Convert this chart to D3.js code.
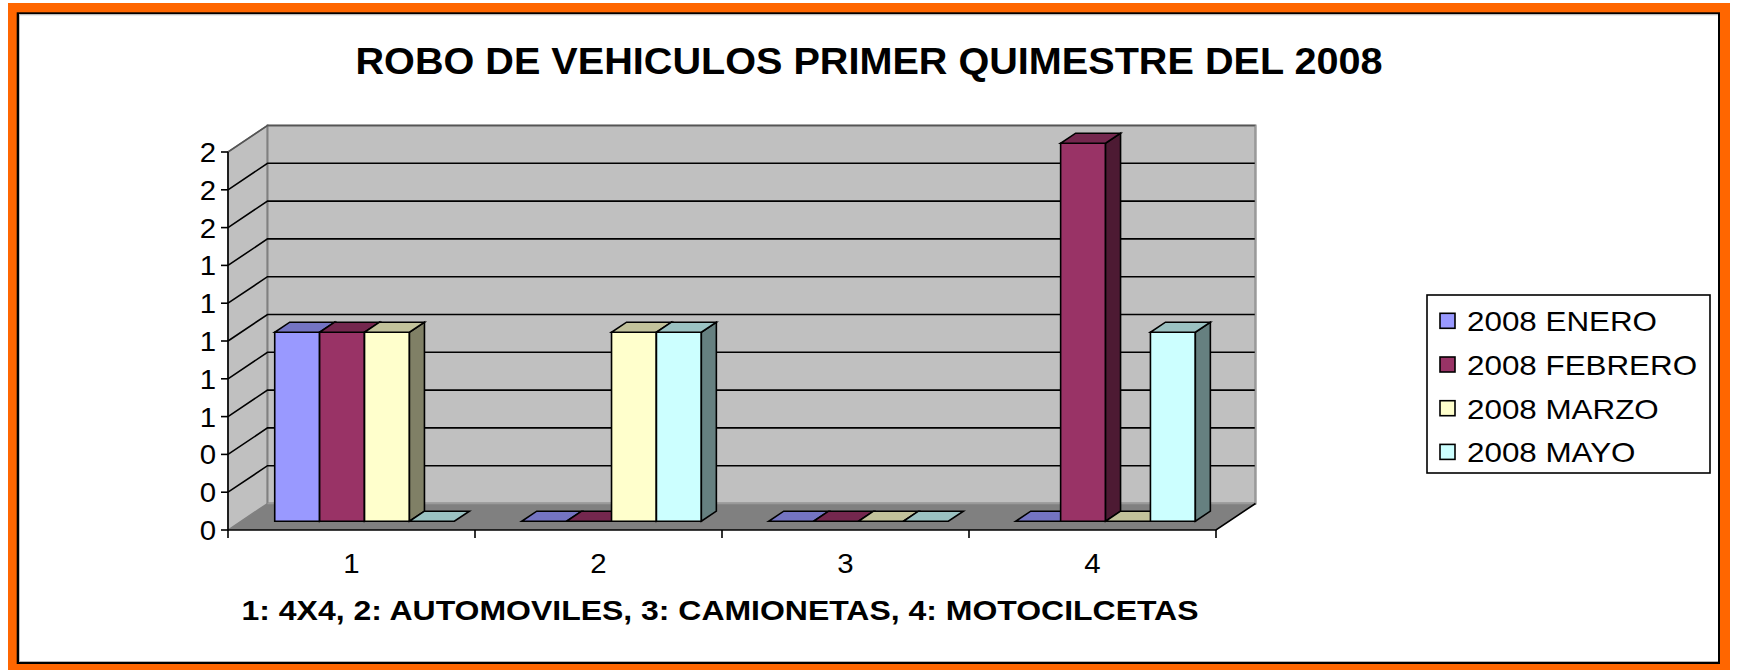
<!DOCTYPE html>
<html>
<head>
<meta charset="utf-8">
<script src="https://cdn.jsdelivr.net/npm/d3@7"></script>
<style>
  html, body { margin: 0; padding: 0; background: #ffffff; }
  svg { display: block; font-family: Arial, "Liberation Sans", sans-serif; }
</style>
</head>
<body>
<svg id="chart" width="1737" height="670"></svg>
<script>
// Vehicle thefts by type, first five months of 2008
const categories = ["1", "2", "3", "4"];
const seriesNames = ["2008 ENERO", "2008 FEBRERO", "2008 MARZO", "2008 MAYO"];
const enero   = [1, 0, 0, 0];
const febrero = [1, 0, 0, 2];
const marzo   = [1, 1, 0, 0];
const mayo    = [0, 1, 0, 1];
const seriesValues = [enero, febrero, marzo, mayo];
const seriesColors = ["#9999FF", "#993366", "#FFFFCC", "#CCFFFF"];
const yTickValues = [0, 0.2, 0.4, 0.6, 0.8, 1.0, 1.2, 1.4, 1.6, 1.8, 2.0];
const yTickLabels = ["0", "0", "0", "1", "1", "1", "1", "1", "2", "2", "2"];
const titleText = "ROBO DE VEHICULOS PRIMER QUIMESTRE DEL 2008";
const axisTitleText = "1: 4X4, 2: AUTOMOVILES, 3: CAMIONETAS, 4: MOTOCILCETAS";

const svg = d3.select("#chart");

// Outer frame: orange band, black rule, white page
svg.append("rect").attr("x", 8).attr("y", 3).attr("width", 1722).attr("height", 670).attr("fill", "#FF6600");
svg.append("rect").attr("x", 16.7).attr("y", 12.3).attr("width", 1703.3).attr("height", 651.7).attr("fill", "#000000");
svg.append("rect").attr("x", 19).attr("y", 14.3).attr("width", 1699).attr("height", 647.4).attr("fill", "#ffffff");
svg.append("path").attr("d", "M19.5,661.7 V14.8 H1718").attr("fill", "none").attr("stroke", "#c0c0c0").attr("stroke-width", 1);

// Text helper: stretch glyphs horizontally by a factor, or to a given width
function stretchText(sel, factor, width) {
  sel.each(function () {
    const w = this.getComputedTextLength();
    const target = width != null ? width : w * factor;
    d3.select(this).attr("textLength", target).attr("lengthAdjust", "spacingAndGlyphs");
  });
}

// Scales for the front plane of the 3D plot
const y = d3.scaleLinear().domain([0, 2]).range([530, 152]);
const x = d3.scaleBand().domain(categories).range([228, 1216]);
const xs = d3.scaleBand().domain(seriesNames).range([0, x.bandwidth()]).paddingInner(0).paddingOuter(0.75);

// Oblique depth projection
const depth = { dx: 39.5, dy: -26.5 };
const proj = (px, py, t) => [px + t * depth.dx, py + t * depth.dy];
const poly = pts => "M" + pts.map(p => p[0].toFixed(2) + "," + p[1].toFixed(2)).join("L") + "Z";
const line = pts => "M" + pts.map(p => p[0].toFixed(2) + "," + p[1].toFixed(2)).join("L");

const x0 = x.range()[0], x1 = x.range()[1];
const yMax = y(2), yMin = y(0);

// Walls and floor
const g = svg.append("g");
g.append("path")
  .attr("d", poly([proj(x0, yMax, 0), proj(x0, yMax, 1), proj(x0, yMin, 1), proj(x0, yMin, 0)]))
  .attr("fill", "#C0C0C0").attr("stroke", "#808080").attr("stroke-width", 1.5);
g.append("path")
  .attr("d", poly([proj(x0, yMax, 1), proj(x1, yMax, 1), proj(x1, yMin, 1), proj(x0, yMin, 1)]))
  .attr("fill", "#C0C0C0").attr("stroke", "#808080").attr("stroke-width", 2);

// Gridlines on side wall and back wall
yTickValues.filter(v => v > 0).forEach(v => {
  g.append("path")
    .attr("d", line([proj(x0, y(v), 0), proj(x0, y(v), 1), proj(x1, y(v), 1)]))
    .attr("fill", "none")
    .attr("stroke", v === 2 ? "#555555" : "#000000")
    .attr("stroke-width", 1.6);
});

g.append("path")
  .attr("d", poly([proj(x0, yMin, 0), proj(x1, yMin, 0), proj(x1, yMin, 1), proj(x0, yMin, 1)]))
  .attr("fill", "#808080").attr("stroke", "none");
g.append("path")
  .attr("d", line([proj(x0, yMin, 1), proj(x1, yMin, 1), proj(x1, yMax, 1)]))
  .attr("fill", "none").attr("stroke", "#9a9a9a").attr("stroke-width", 1.5);
g.append("path")
  .attr("d", line([proj(x0, yMin, 0), proj(x1, yMin, 0), proj(x1, yMin, 1)]))
  .attr("fill", "none").attr("stroke", "#000000").attr("stroke-width", 1.6);

// Value axis line, ticks and labels
g.append("line").attr("x1", x0).attr("x2", x0).attr("y1", yMax).attr("y2", yMin)
  .attr("stroke", "#000000").attr("stroke-width", 1.6);
yTickValues.forEach((v, i) => {
  g.append("line").attr("x1", x0 - 7).attr("x2", x0).attr("y1", y(v)).attr("y2", y(v))
    .attr("stroke", "#000000").attr("stroke-width", 1.6);
  g.append("text")
    .attr("x", x0 - 12).attr("y", y(v) + 10)
    .attr("text-anchor", "end")
    .attr("font-size", 28)
    .attr("fill", "#000000")
    .text(yTickLabels[i])
    .call(stretchText, 1.05);
});

// Category axis ticks and labels
const boundaries = categories.map(c => x(c)).concat([x1]);
boundaries.forEach(bx => {
  g.append("line").attr("x1", bx).attr("x2", bx).attr("y1", yMin).attr("y2", yMin + 8)
    .attr("stroke", "#000000").attr("stroke-width", 1.6);
});
categories.forEach(c => {
  g.append("text")
    .attr("x", x(c) + x.bandwidth() / 2).attr("y", 573)
    .attr("text-anchor", "middle")
    .attr("font-size", 28)
    .text(c)
    .call(stretchText, 1.05);
});

// 3D bars
const t0 = 0.33, t1 = 0.71;
const bars = svg.append("g")
  .attr("stroke", "#000000").attr("stroke-width", 1.6).attr("stroke-linejoin", "miter");
categories.forEach((c, ci) => {
  seriesNames.forEach((s, si) => {
    const v = seriesValues[si][ci];
    const color = d3.rgb(seriesColors[si]);
    const sideColor = d3.rgb(color.r * 0.5, color.g * 0.5, color.b * 0.5);
    const topColor = d3.rgb(color.r * 0.76, color.g * 0.76, color.b * 0.76);
    const xl = x(c) + xs(s), xr = xl + xs.bandwidth();
    const yt = y(v), yb = y(0);
    if (v > 0) {
      bars.append("path")
        .attr("d", poly([proj(xl, yt, t0), proj(xr, yt, t0), proj(xr, yb, t0), proj(xl, yb, t0)]))
        .attr("fill", color.formatHex());
      bars.append("path")
        .attr("d", poly([proj(xr, yt, t0), proj(xr, yt, t1), proj(xr, yb, t1), proj(xr, yb, t0)]))
        .attr("fill", sideColor.formatHex());
    }
    bars.append("path")
      .attr("d", poly([proj(xl, yt, t0), proj(xr, yt, t0), proj(xr, yt, t1), proj(xl, yt, t1)]))
      .attr("fill", topColor.formatHex());
  });
});

// Titles
svg.append("text")
  .attr("x", 869).attr("y", 74)
  .attr("text-anchor", "middle")
  .attr("font-size", 37).attr("font-weight", "bold")
  .text(titleText)
  .call(stretchText, null, 1027);

svg.append("text")
  .attr("x", 241.5).attr("y", 620)
  .attr("font-size", 28).attr("font-weight", "bold")
  .text(axisTitleText)
  .call(stretchText, null, 957);

// Legend
const legend = svg.append("g");
legend.append("rect")
  .attr("x", 1427).attr("y", 295).attr("width", 283).attr("height", 178)
  .attr("fill", "#ffffff").attr("stroke", "#000000").attr("stroke-width", 1.6);
seriesNames.forEach((s, i) => {
  const cy = 320.8 + i * 43.7;
  legend.append("rect")
    .attr("x", 1440).attr("y", cy - 7.5).attr("width", 15).attr("height", 15)
    .attr("fill", seriesColors[i]).attr("stroke", "#000000").attr("stroke-width", 1.6);
  legend.append("text")
    .attr("x", 1467).attr("y", cy + 10.5)
    .attr("font-size", 28)
    .text(s)
    .call(stretchText, 1.12);
});
</script>
</body>
</html>
